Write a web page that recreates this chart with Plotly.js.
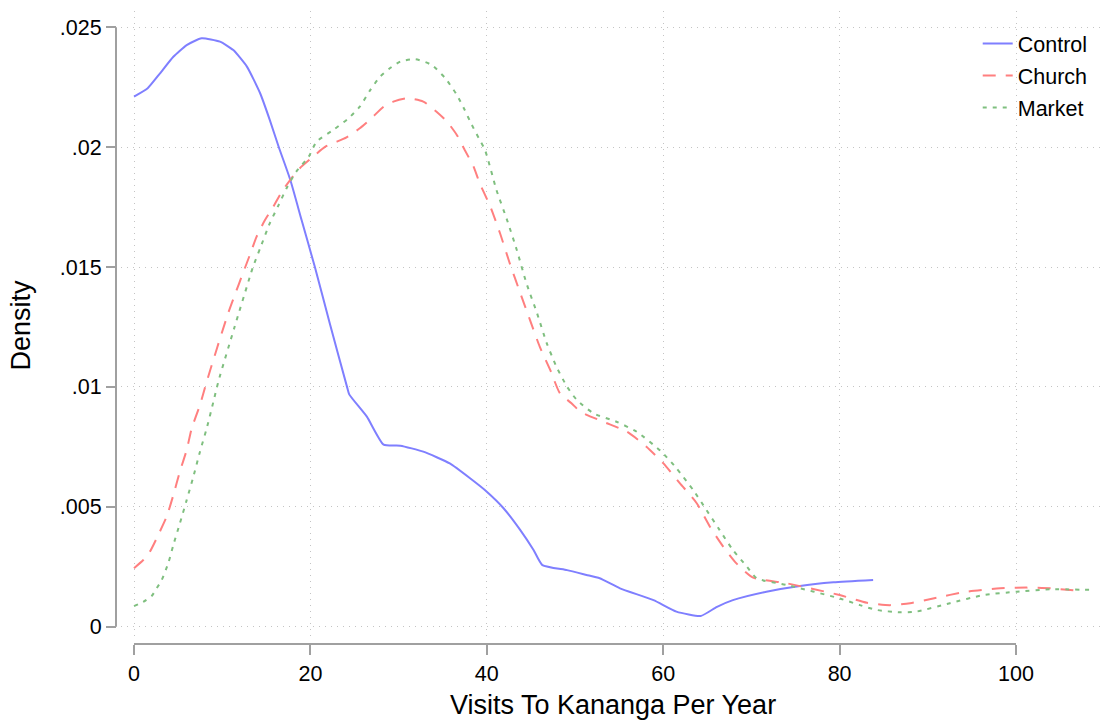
<!DOCTYPE html>
<html>
<head>
<meta charset="utf-8">
<script src="https://cdn.plot.ly/plotly-3.0.1.min.js"></script>
<style>html,body{margin:0;padding:0;background:#fff;}#chart{width:1105px;height:721px;}</style>
</head>
<body>
<div id="chart"></div>
<script>
// Kernel density estimates
const controlX = [0, 1.55, 2.95, 4.46, 5.97, 7.67, 9.75, 11.26, 12.8, 14.3, 15.4, 16.4, 17.7, 19.0, 20.5, 22.2, 24.2, 24.4, 26.4, 28.3, 30.2, 32.8, 35.8, 38.1, 40.0, 41.9, 43.8, 45.3, 46.3, 49.1, 51.3, 52.8, 55.1, 58.9, 61.5, 64.25, 66.1, 67.9, 71.7, 75.5, 79.3, 83.8];
const controlY = [0.02211, 0.02246, 0.02308, 0.02377, 0.02426, 0.02454, 0.0244, 0.02405, 0.02336, 0.02225, 0.02113, 0.02002, 0.01866, 0.01696, 0.01501, 0.01265, 0.00994, 0.00969, 0.00876, 0.00759, 0.00755, 0.0073, 0.00681, 0.00619, 0.00563, 0.00494, 0.00403, 0.0032, 0.00257, 0.00236, 0.00216, 0.00202, 0.0016, 0.00111, 0.00063, 0.000446, 0.00083, 0.00111, 0.00146, 0.0017, 0.00185, 0.00195];

const churchX = [0, 1.05, 1.8, 2.57, 3.7, 4.46, 5.2, 5.97, 6.54, 7.48, 8.24, 10.7, 13.2, 13.9, 14.85, 15.8, 16.75, 17.7, 18.8, 20.3, 21.7, 24.1, 25.6, 26.9, 28.3, 29.4, 30.9, 32.8, 34.3, 35.5, 36.6, 37.5, 38.5, 39.2, 40.4, 41.5, 42.6, 43.8, 44.9, 46.0, 47.2, 48.3, 49.6, 50.6, 53.2, 55.9, 58.1, 60.0, 61.9, 63.8, 65.3, 66.8, 68.3, 70.2, 74.0, 80.0, 83.1, 85.7, 88.0, 90.6, 94.4, 98.2, 101.2, 103.9, 107.1];
const churchY = [0.00244, 0.00278, 0.00313, 0.00369, 0.00459, 0.00549, 0.00647, 0.00737, 0.00827, 0.00925, 0.01022, 0.0131, 0.01557, 0.01627, 0.01696, 0.01752, 0.01814, 0.01863, 0.01912, 0.0196, 0.02002, 0.02041, 0.02079, 0.0212, 0.02169, 0.0219, 0.02204, 0.0219, 0.02148, 0.02106, 0.02051, 0.01988, 0.01919, 0.01849, 0.01752, 0.01641, 0.01516, 0.01391, 0.01279, 0.01168, 0.0107, 0.00973, 0.00932, 0.00897, 0.00855, 0.00813, 0.00751, 0.00682, 0.00598, 0.00515, 0.00417, 0.00334, 0.00264, 0.00205, 0.00181, 0.00132, 0.001, 0.0009, 0.00098, 0.00118, 0.00146, 0.0016, 0.00163, 0.0016, 0.0015];

const marketX = [0, 1.05, 2.0, 2.57, 3.14, 3.9, 4.46, 5.2, 5.97, 6.73, 7.48, 8.24, 9.0, 9.56, 11.4, 13.2, 13.5, 14.3, 15.4, 16.4, 17.3, 18.4, 19.8, 20.7, 22.6, 24.3, 25.6, 26.8, 27.9, 29.0, 30.2, 31.9, 33.75, 35.3, 36.6, 37.5, 38.3, 39.2, 39.8, 41.1, 42.3, 43.4, 44.5, 45.7, 46.8, 47.9, 49.1, 50.2, 52.1, 54.7, 57.0, 59.8, 61.5, 63.4, 64.9, 66.4, 67.9, 69.5, 70.6, 74.0, 80.0, 82.3, 84.2, 86.8, 88.7, 92.5, 96.3, 100.1, 103.9, 109.0];
const marketY = [0.00086, 0.00104, 0.00128, 0.0016, 0.00195, 0.00267, 0.00341, 0.00431, 0.00528, 0.00626, 0.0073, 0.00827, 0.00938, 0.01022, 0.0125, 0.01467, 0.01502, 0.01578, 0.01683, 0.01759, 0.01829, 0.01898, 0.0196, 0.02023, 0.02072, 0.0212, 0.02169, 0.02239, 0.02294, 0.02329, 0.02357, 0.02367, 0.02343, 0.02287, 0.02218, 0.02155, 0.02093, 0.0203, 0.01988, 0.01821, 0.01696, 0.01571, 0.01432, 0.01307, 0.01182, 0.01084, 0.01001, 0.00946, 0.0089, 0.00855, 0.00813, 0.0073, 0.00661, 0.0057, 0.00487, 0.00403, 0.0032, 0.0025, 0.00202, 0.00174, 0.00118, 0.0009, 0.0007, 0.0006, 0.00063, 0.00098, 0.00132, 0.00146, 0.00156, 0.00153];

const seriesNames = ["Control", "Church", "Market"];
const xTickVals = [0, 20, 40, 60, 80, 100];
const xTickText = ["0", "20", "40", "60", "80", "100"];
const yTickVals = [0, 0.005, 0.01, 0.015, 0.02, 0.025];
const yTickText = ["0", ".005", ".01", ".015", ".02", ".025"];

const FONT = '"Liberation Sans", Arial, Helvetica, sans-serif';
const axisGray = '#a0a0a0';

const traces = [
  {x: controlX, y: controlY, name: seriesNames[0], mode: 'lines', legendgroup: 'a',
   line: {color: '#7f7fff', width: 2, dash: 'solid', shape: 'spline', smoothing: 0.5}},
  {x: churchX, y: churchY, name: seriesNames[1], mode: 'lines', legendgroup: 'b',
   line: {color: '#ff7f7f', width: 2, dash: '13px,10px', shape: 'spline', smoothing: 0.6}},
  {x: marketX, y: marketY, name: seriesNames[2], mode: 'lines', legendgroup: 'c',
   line: {color: '#7fbf7f', width: 2, dash: '4px,6px', shape: 'spline', smoothing: 0.6}}
];

const layout = {
  width: 1105, height: 721,
  margin: {l: 116, r: 0, t: 11, b: 77},
  paper_bgcolor: '#fff', plot_bgcolor: '#fff',
  font: {family: FONT, size: 21.5, color: '#000'},
  showlegend: true,
  legend: {x: 0.8713, y: 0.981, xanchor: 'left', yanchor: 'top', bgcolor: 'rgba(0,0,0,0)',
           borderwidth: 0, font: {size: 21.5}, traceorder: 'grouped', tracegroupgap: 1,
           itemwidth: 30},
  xaxis: {
    domain: [0.00506, 1], range: [-1.474, 110.09], anchor: 'free', position: 0,
    tickvals: xTickVals, ticktext: xTickText, ticks: 'outside', ticklen: 10, tickwidth: 2,
    tickcolor: axisGray, showline: false, zeroline: false,
    showgrid: true, gridcolor: '#c4c4c4', gridwidth: 1, griddash: '1px,5px',
    tickfont: {size: 21.5},
    title: {text: 'Visits To Kananga Per Year', font: {size: 27}, standoff: 10}
  },
  yaxis: {
    domain: [0.0063, 1], range: [-0.000555, 0.02568], anchor: 'free', position: 0,
    tickvals: yTickVals, ticktext: yTickText, ticks: 'outside', ticklen: 10, tickwidth: 2,
    tickcolor: axisGray, showline: false, zeroline: false,
    showgrid: true, gridcolor: '#c4c4c4', gridwidth: 1, griddash: '1px,5px',
    tickfont: {size: 21.5},
    title: {text: 'Density', font: {size: 27}, standoff: 20}
  },
  shapes: [
    {type: 'line', xref: 'paper', yref: 'y', x0: 0, x1: 0, y0: 0, y1: 0.025,
     line: {color: axisGray, width: 2}},
    {type: 'line', xref: 'x', yref: 'paper', x0: 0, x1: 100, y0: 0, y1: 0,
     line: {color: axisGray, width: 2}}
  ]
};

Plotly.newPlot('chart', traces, layout, {displayModeBar: false, staticPlot: true});
</script>
</body>
</html>
